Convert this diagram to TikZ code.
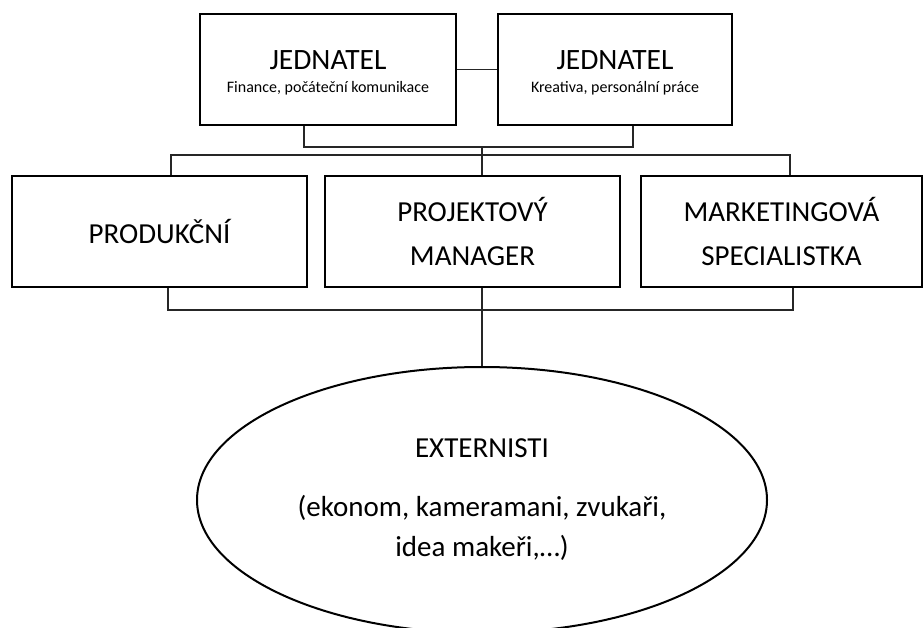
\documentclass[tikz,border=0pt]{standalone}
\usepackage{fontspec}
\setmainfont{Carlito}
\usetikzlibrary{shapes.geometric,calc}
\begin{document}
\begin{tikzpicture}[x=1pt,y=-1pt,
  box/.style={draw=black,line width=2pt,rectangle,inner sep=0pt,align=center},
  topbox/.style={box,minimum height=111pt},
  midbox/.style={box,minimum height=111pt,font=\fontsize{29}{44}\selectfont},
  big/.style={inner sep=0pt,font=\fontsize{29.5}{30}\selectfont},
  small/.style={inner sep=0pt,font=\fontsize{16}{18}\selectfont},
  conn/.style={draw=black!85,line width=1.3pt},
  oval/.style={draw=black,line width=2pt,ellipse,inner sep=0pt,minimum width=570pt,minimum height=266pt,align=center,font=\fontsize{29}{40}\selectfont}]
\useasboundingbox (0,0) rectangle (924,628);
\node[topbox,minimum width=256pt] (a) at (328,69.5) {};
\node[big] (a1) at (328,60.5) {JEDNATEL};
\node[small] (a2) at (328,88.5) {Finance, počáteční komunikace};
\node[topbox,minimum width=234pt] (b) at (615,69.5) {};
\node[big] (b1) at (615,60.5) {JEDNATEL};
\node[small] (b2) at (615,88.5) {Kreativa, personální práce};
\node[midbox,minimum width=295pt] (p) at (159.5,231.5) {PRODUKČNÍ};
\node[midbox,minimum width=295pt] (m) at (472.5,231.5) {PROJEKTOVÝ\\MANAGER};
\node[midbox,minimum width=281pt] (s) at (781.5,231.5) {MARKETINGOVÁ\\SPECIALISTKA};
\node[oval] (e) at (482,500) {EXTERNISTI\\[19pt](ekonom, kameramani, zvukaři,\\idea makeři,…)};
% connectors
\coordinate (j1) at (482,147);
\coordinate (j2) at (482,155);
\coordinate (j3) at (482,310);
\draw[conn] (a) -- (b);
\draw[conn] (a.south -| 304,0) |- (j1) -| (b.south -| 633,0);
\draw[conn] (j1) -- (m.north -| j1);
\draw[conn] (p.north -| 171,0) |- (j2) -| (s.north -| 790,0);
\draw[conn] (p.south -| 168,0) |- (j3) -| (s.south -| 793,0);
\draw[conn] (m.south -| j3) -- (e.north);
\end{tikzpicture}
\end{document}
